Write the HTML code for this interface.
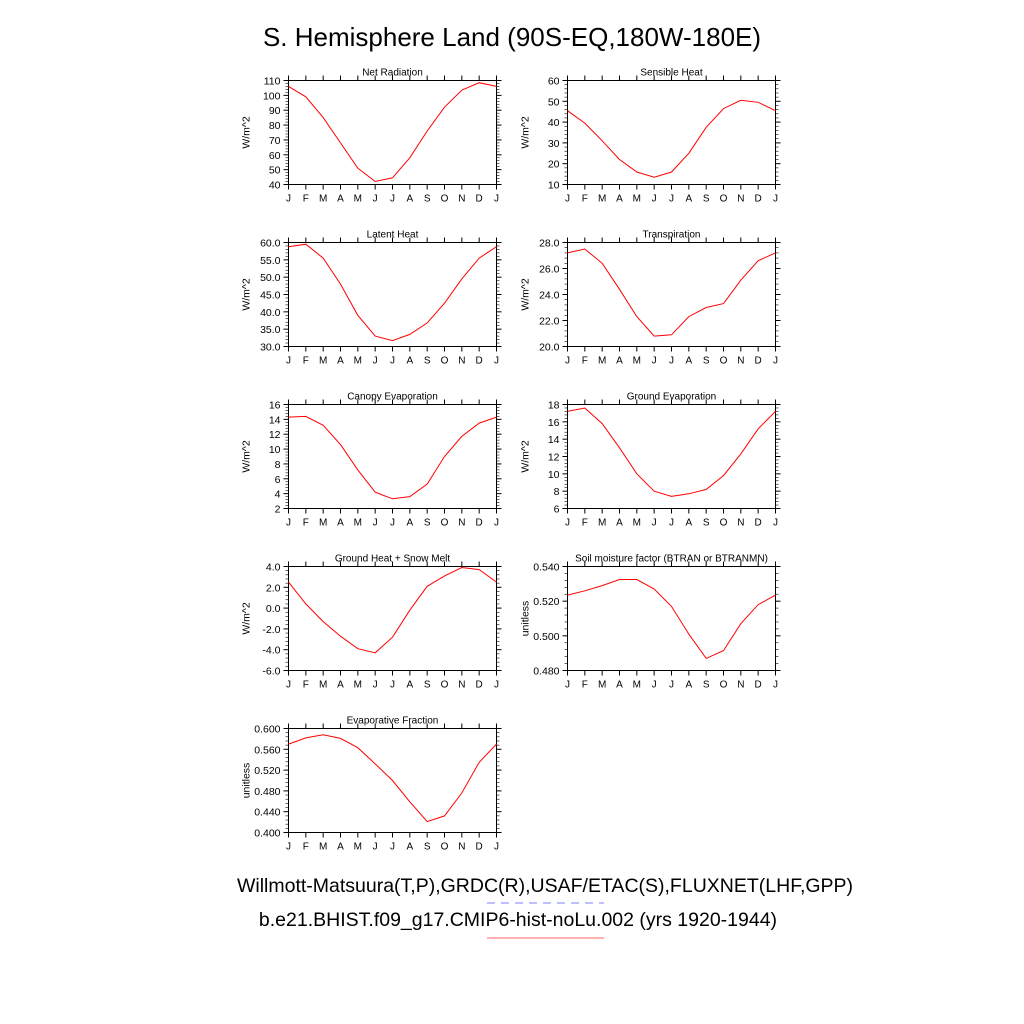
<!DOCTYPE html>
<html><head><meta charset="utf-8"><style>
html,body{margin:0;padding:0;background:#fff;}
svg{display:block;font-family:"Liberation Sans",Arial,sans-serif;}
</style></head><body>
<svg id="fig" width="1024" height="1024" viewBox="0 0 1024 1024">
<text x="512" y="46" font-size="26" text-anchor="middle">S. Hemisphere Land (90S-EQ,180W-180E)</text>
<text x="545" y="892" font-size="19.5" text-anchor="middle">Willmott-Matsuura(T,P),GRDC(R),USAF/ETAC(S),FLUXNET(LHF,GPP)</text>
<line x1="487" y1="903" x2="604" y2="903" stroke="#8080ff" stroke-width="1" stroke-dasharray="8,6"/>
<text x="518" y="926" font-size="19.5" text-anchor="middle">b.e21.BHIST.f09_g17.CMIP6-hist-noLu.002 (yrs 1920-1944)</text>
<line x1="487" y1="938" x2="604" y2="938" stroke="#ff6060" stroke-width="1"/>
</svg>
<script>
const months = ["J","F","M","A","M","J","J","A","S","O","N","D","J"];
const netRad = [106,99,85,68,51,42,44.5,58,76,92,103.5,108.5,106];
const sensible = [45.5,39.5,31,22,16,13.5,16,25,37.5,46.5,50.5,49.5,45.5];
const latent = [58.8,59.5,55.5,48,39,33,31.7,33.5,36.8,42.5,49.5,55.5,58.8];
const transp = [27.2,27.5,26.4,24.4,22.3,20.8,20.9,22.3,23.0,23.3,25.1,26.6,27.2];
const canopy = [14.3,14.4,13.2,10.6,7.2,4.2,3.3,3.6,5.3,9.0,11.7,13.5,14.3];
const groundEvap = [17.2,17.6,15.8,13,10,8,7.4,7.7,8.2,9.8,12.3,15.2,17.2];
const groundHeat = [2.5,0.4,-1.3,-2.7,-3.9,-4.3,-2.8,-0.2,2.1,3.1,3.9,3.7,2.5];
const soil = [0.5235,0.526,0.529,0.5325,0.5325,0.527,0.517,0.501,0.487,0.4915,0.507,0.518,0.5235];
const evapFrac = [0.570,0.582,0.588,0.581,0.563,0.532,0.500,0.459,0.421,0.432,0.476,0.535,0.570];

const panels = [
 {name:"net-radiation",title:"Net Radiation",unit:"W/m^2",data:netRad,min:40,max:110,step:10,dec:0,col:0,row:0},
 {name:"sensible-heat",title:"Sensible Heat",unit:"W/m^2",data:sensible,min:10,max:60,step:10,dec:0,col:1,row:0},
 {name:"latent-heat",title:"Latent Heat",unit:"W/m^2",data:latent,min:30,max:60,step:5,dec:1,col:0,row:1},
 {name:"transpiration",title:"Transpiration",unit:"W/m^2",data:transp,min:20,max:28,step:2,dec:1,col:1,row:1},
 {name:"canopy-evaporation",title:"Canopy Evaporation",unit:"W/m^2",data:canopy,min:2,max:16,step:2,dec:0,col:0,row:2},
 {name:"ground-evaporation",title:"Ground Evaporation",unit:"W/m^2",data:groundEvap,min:6,max:18,step:2,dec:0,col:1,row:2},
 {name:"ground-heat",title:"Ground Heat + Snow Melt",unit:"W/m^2",data:groundHeat,min:-6,max:4,step:2,dec:1,col:0,row:3},
 {name:"soil-moisture",title:"Soil moisture factor (BTRAN or BTRANMN)",unit:"unitless",data:soil,min:0.48,max:0.54,step:0.02,dec:3,col:1,row:3},
 {name:"evaporative-fraction",title:"Evaporative Fraction",unit:"unitless",data:evapFrac,min:0.4,max:0.6,step:0.04,dec:3,col:0,row:4}
];
const NS="http://www.w3.org/2000/svg";
const svg=document.getElementById("fig");
function mk(tag,attrs,parent){const e=document.createElementNS(NS,tag);for(const k in attrs)e.setAttribute(k,attrs[k]);parent.appendChild(e);return e;}
panels.forEach(p=>{
  const L=p.col?567.5:288.5, W=208, T=80.5+p.row*162, H=104, B=T+H;
  const g=mk("g",{},svg);
  
  
  const xs=i=>L+i*W/12;
  const ys=v=>B-(v-p.min)/(p.max-p.min)*H;
  const t=mk("text",{x:L+W/2,y:T-5,"font-size":10,"text-anchor":"middle"},g);
  
  
  t.textContent=p.title;
  const yl=mk("text",{x:0,y:0,"font-size":10.5,"text-anchor":"middle",transform:`translate(${L-39},${T+H/2}) rotate(-90)`},g);
  
  
  yl.textContent=p.unit;
  // x ticks
  months.forEach((m,i)=>{
    const x=xs(i);
    mk("line",{x1:x,y1:B,x2:x,y2:B+5,stroke:"#000","stroke-width":1},g);
    mk("line",{x1:x,y1:T,x2:x,y2:T-5,stroke:"#000","stroke-width":1},g);
    const lt=mk("text",{x:x,y:B+17,"font-size":10,"text-anchor":"middle"},g);
    
    
    lt.textContent=m;
  });
  // y ticks
  const n=Math.round((p.max-p.min)/p.step);
  for(let k=0;k<=n;k++){
    const v=p.min+k*p.step, y=ys(v);
    mk("line",{x1:L-5,y1:y,x2:L,y2:y,stroke:"#000","stroke-width":1},g);
    mk("line",{x1:L+W,y1:y,x2:L+W+5,y2:y,stroke:"#000","stroke-width":1},g);
    const lt=mk("text",{x:L-8,y:y+4,"font-size":10.5,"text-anchor":"end"},g);
    
    
    lt.textContent=v.toFixed(p.dec);
    if(k<n){for(let j=1;j<5;j++){const yy=y-j*(H/n)/5;
      mk("line",{x1:L-3,y1:yy,x2:L,y2:yy,stroke:"#000","stroke-width":0.6},g);
      mk("line",{x1:L+W,y1:yy,x2:L+W+3,y2:yy,stroke:"#000","stroke-width":0.6},g);}}
  }
  mk("rect",{x:L,y:T,width:W,height:H,fill:"none",stroke:"#000","stroke-width":1},g);
  const pts=p.data.map((v,i)=>xs(i).toFixed(1)+","+ys(v).toFixed(1)).join(" ");
  const pl=mk("polyline",{points:pts,fill:"none",stroke:"#ff0000","stroke-width":1},g);
  
  
});
</script>
</body></html>
